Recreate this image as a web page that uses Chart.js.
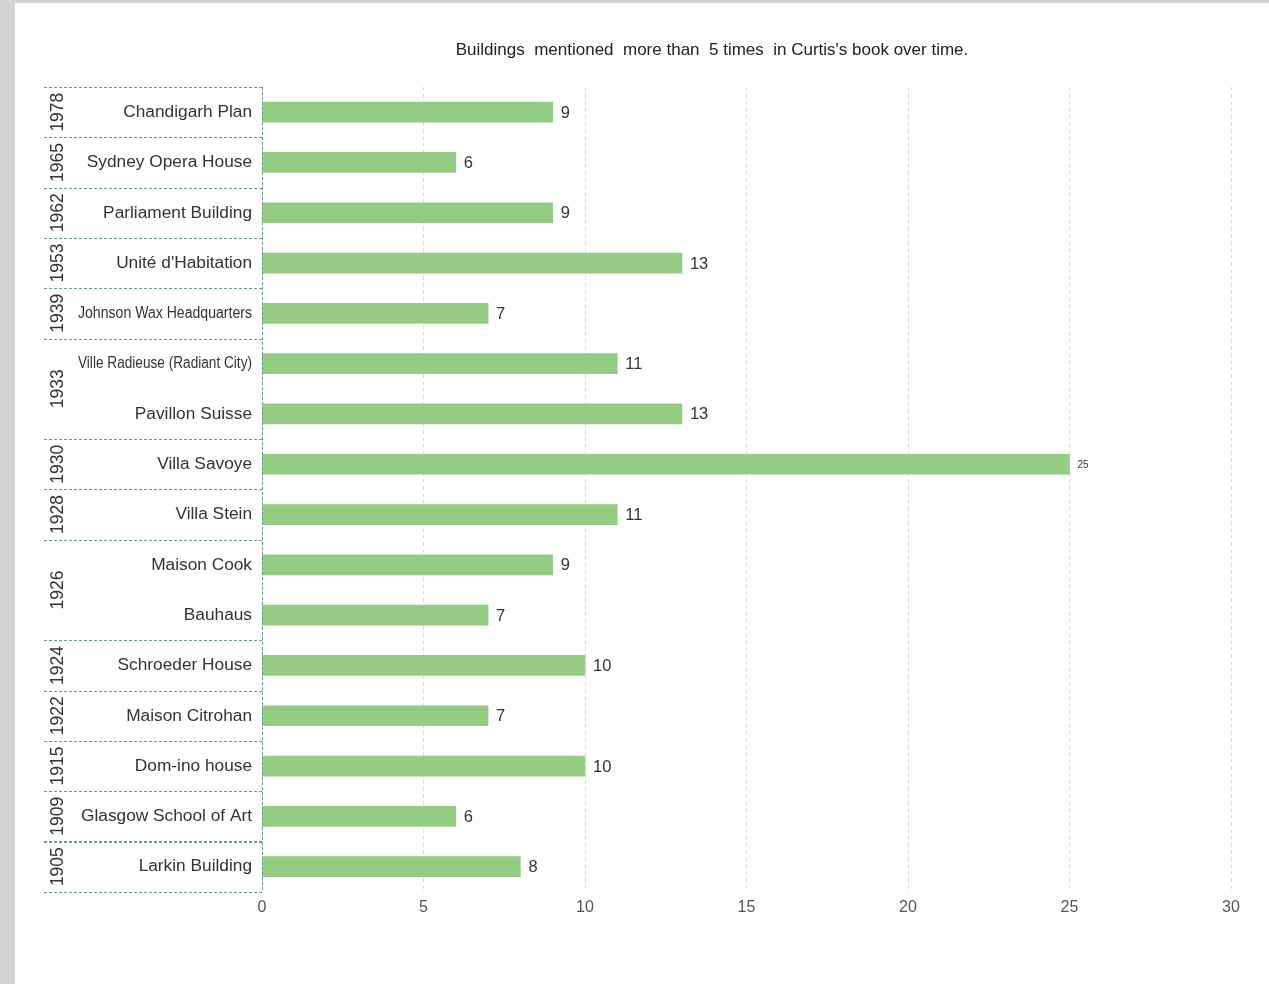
<!DOCTYPE html>
<html>
<head>
<meta charset="utf-8">
<script src="https://cdn.jsdelivr.net/npm/chart.js@4"></script>
<style>
    html, body { margin: 0; padding: 0; background: #d2d4d4; }
    #wrap {
        position: absolute;
        left: 15px;
        top: 3px;
        width: 1254px;
        height: 981px;
        background: #ffffff;
    }
</style>
</head>
<body>
<div id="wrap"><canvas id="buildingsChart"></canvas></div>
<script>
// Buildings, year of each building, and number of mentions
const buildings = [
    'Chandigarh Plan', 'Sydney Opera House', 'Parliament Building', "Unité d'Habitation",
    'Johnson Wax Headquarters', 'Ville Radieuse (Radiant City)', 'Pavillon Suisse',
    'Villa Savoye', 'Villa Stein', 'Maison Cook', 'Bauhaus', 'Schroeder House',
    'Maison Citrohan', 'Dom-ino house', 'Glasgow School of Art', 'Larkin Building'
];
const years = [
    '1978', '1965', '1962', '1953', '1939', '1933', '1933', '1930',
    '1928', '1926', '1926', '1924', '1922', '1915', '1909', '1905'
];
const mentions = [9, 6, 9, 13, 7, 11, 13, 25, 11, 9, 7, 10, 7, 10, 6, 8];
const xTicks = [0, 5, 10, 15, 20, 25, 30];

const FONT = '"Liberation Sans", Arial, sans-serif';
const BOX_COLOR = '#6a9e8c';

// Category labels, year groups and title drawn around the chart area
const sideLabels = {
    id: 'sideLabels',
    afterDraw(chart) {
        const ctx = chart.ctx;
        const area = chart.chartArea;
        const yScale = chart.scales.y;
        const step = yScale.getPixelForValue(1) - yScale.getPixelForValue(0);
        const boxLeft = 29;

        ctx.save();

        // title
        ctx.fillStyle = '#222';
        ctx.font = '17px ' + FONT;
        ctx.textAlign = 'center';
        ctx.textBaseline = 'middle';
        ctx.fillText("Buildings  mentioned  more than  5 times  in Curtis's book over time.", 697, 47);

        // building names
        ctx.fillStyle = '#333';
        ctx.font = '17.3px ' + FONT;
        ctx.textAlign = 'right';
        buildings.forEach(function(name, i) {
            ctx.fillText(name, area.left - 10, yScale.getPixelForValue(i), 174);
        });

        // year groups
        ctx.font = '17.5px ' + FONT;
        ctx.strokeStyle = BOX_COLOR;
        ctx.lineWidth = 1;
        ctx.setLineDash([3, 2]);
        let start = 0;
        for (let i = 1; i <= years.length; i++) {
            if (i === years.length || years[i] !== years[start]) {
                const top = yScale.getPixelForValue(start) - step / 2;
                const bottom = yScale.getPixelForValue(i - 1) + step / 2;
                ctx.beginPath();
                ctx.moveTo(boxLeft, Math.round(top) + 0.5);
                ctx.lineTo(area.left, Math.round(top) + 0.5);
                ctx.moveTo(boxLeft, Math.round(bottom) + 0.5);
                ctx.lineTo(area.left, Math.round(bottom) + 0.5);
                ctx.stroke();

                ctx.save();
                ctx.translate(43, (top + bottom) / 2);
                ctx.rotate(-Math.PI / 2);
                ctx.textAlign = 'center';
                ctx.fillText(years[start], 0, 0);
                ctx.restore();
                start = i;
            }
        }
        ctx.beginPath();
        ctx.moveTo(Math.round(area.left) + 0.5, area.top);
        ctx.lineTo(Math.round(area.left) + 0.5, area.bottom);
        ctx.stroke();

        ctx.restore();
    }
};

// Value written at the end of each bar
const valueLabels = {
    id: 'valueLabels',
    afterDatasetsDraw(chart) {
        const ctx = chart.ctx;
        const meta = chart.getDatasetMeta(0);
        ctx.save();
        ctx.fillStyle = '#333';
        ctx.textAlign = 'left';
        ctx.textBaseline = 'middle';
        meta.data.forEach(function(bar, i) {
            const v = mentions[i];
            ctx.font = (v >= 20 ? '10px ' : '16.5px ') + FONT;
            ctx.fillText(String(v), bar.x + 8, bar.y + 1);
        });
        ctx.restore();
    }
};

new Chart(document.getElementById('buildingsChart'), {
    type: 'bar',
    data: {
        labels: buildings,
        datasets: [{
            data: mentions,
            backgroundColor: '#94cc84',
            barThickness: 20
        }]
    },
    options: {
        indexAxis: 'y',
        responsive: true,
        maintainAspectRatio: false,
        animation: false,
        layout: {
            padding: { left: 247, top: 84, right: 38, bottom: 61 }
        },
        plugins: {
            legend: { display: false },
            tooltip: { enabled: false }
        },
        scales: {
            y: {
                display: false
            },
            x: {
                min: 0,
                max: 30,
                afterBuildTicks: function(scale) {
                    scale.ticks = xTicks.map(function(v) { return { value: v }; });
                },
                grid: {
                    color: '#dcdcdc',
                    tickLength: 0
                },
                border: { display: false, dash: [4, 3] },
                ticks: {
                    color: '#555',
                    padding: 6,
                    font: { size: 16, family: FONT }
                }
            }
        }
    },
    plugins: [sideLabels, valueLabels]
});
</script>
</body>
</html>
